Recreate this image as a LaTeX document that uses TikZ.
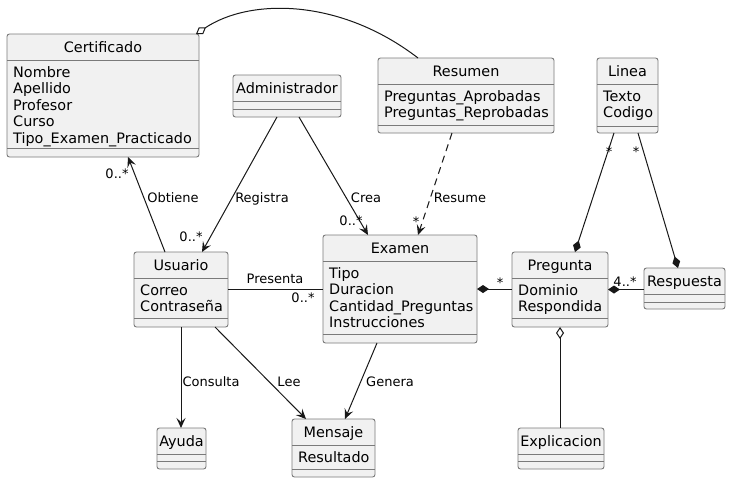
\documentclass[tikz,border=0pt]{standalone}
\usepackage{fontspec}
\setmainfont{DejaVu Sans}
\usetikzlibrary{arrows.meta,calc}
\definecolor{boxfill}{HTML}{F1F1F1}
\definecolor{boxline}{HTML}{7A7A7A}
\definecolor{ink}{HTML}{181818}
\tikzset{
 classbox/.style={rectangle, draw=boxline, fill=boxfill, line width=0.9pt, rounded corners=2.5pt, inner sep=0pt, outer sep=0pt},
 sepline/.style={draw=boxline, line width=0.9pt},
 titletext/.style={font=\fontsize{14.4}{16}\selectfont, inner sep=0pt, text=black},
 attrtext/.style={font=\fontsize{14.4}{16}\selectfont, inner sep=0pt, text=black},
 lbl/.style={font=\fontsize{13}{15}\selectfont, inner sep=0pt, text=black, anchor=base},
 edge/.style={draw=ink, line width=1pt},
 navarrow/.style={edge, -{Stealth[length=10pt,width=9pt,inset=4pt]}},
 compos/.style={edge, {Diamond[length=12pt,width=8pt]}-},
 aggreg/.style={edge, {Diamond[open,length=12pt,width=8pt,fill=white]}-},
 deparrow/.style={navarrow, dash pattern=on 7pt off 5pt},
}
\newcommand\umlclass[7]{%
 \node[classbox, anchor=north west, minimum width={#4pt-#2pt}, minimum height={#5pt-#3pt}] (#1) at (#2,#3) {};
 \draw[sepline] (#2,{#3+26}) -- (#4,{#3+26});
 \draw[sepline] (#2,#7) -- (#4,#7);
 \node[titletext, anchor=base] (#1-t) at ([yshift=-18pt]#1.north) {#6};
}
\newcommand\umlattrs[4]{%
 \foreach \a [count=\i] in {#4} {
   \node[attrtext, anchor=base west] (#1-a\i) at ({#2+6},{#3+43+16.5*(\i-1)}) {\a};
 }
}
\begin{document}
\begin{tikzpicture}[x=1pt,y=-1pt]
\path[fill=white, use as bounding box] (0,0) rectangle (731,483);

\umlclass{Certificado}{7}{34}{199}{157}{Certificado}{148}
\umlattrs{Certificado}{7}{34}{Nombre,Apellido,Profesor,Curso,Tipo\_Examen\_Practicado}
\umlclass{Administrador}{233}{75}{341}{117}{Administrador}{109}
\umlclass{Resumen}{378}{58}{554}{133}{Resumen}{125}
\umlattrs{Resumen}{378}{58}{Preguntas\_Aprobadas,Preguntas\_Reprobadas}
\umlclass{Linea}{597}{58}{658}{133}{Linea}{126}
\umlattrs{Linea}{597}{58}{Texto,Codigo}
\umlclass{Usuario}{134}{252}{228}{327}{Usuario}{318}
\umlattrs{Usuario}{134}{252}{Correo,Contraseña}
\umlclass{Examen}{323}{235}{477}{343}{Examen}{334}
\umlattrs{Examen}{323}{235}{Tipo,Duracion,Cantidad\_Preguntas,Instrucciones}
\umlclass{Pregunta}{512}{252}{608}{327}{Pregunta}{318}
\umlattrs{Pregunta}{512}{252}{Dominio,Respondida}
\umlclass{Respuesta}{644}{268}{725}{309}{Respuesta}{302}
\umlclass{Ayuda}{157}{428}{206}{469}{Ayuda}{461}
\umlclass{Mensaje}{292}{419}{375}{477}{Mensaje}{469}
\umlattrs{Mensaje}{292}{419}{Resultado}
\umlclass{Explicacion}{518}{428}{604}{469}{Explicacion}{461}

% Resumen -- Certificado (aggregation)
\draw[aggreg] ([xshift=-3pt]Certificado.north east) .. controls (250,-2) and (340,-2) .. ([xshift=40pt]Resumen.north west);

% Usuario -> Certificado
\draw[navarrow] ([xshift=31pt]Usuario.north west) -- ([xshift=121pt]Certificado.south west);
\node[lbl] (l-obt) at (173,202) {Obtiene};
\node[lbl] (m-cert) at (117,178) {0..*};

% Administrador -> Usuario
\draw[navarrow] ([xshift=44pt]Administrador.south west) -- ([xshift=68pt]Usuario.north west);
\node[lbl] (l-reg) at (262,202) {Registra};
\node[lbl] (m-usu) at (191,241) {0..*};

% Administrador -> Examen
\draw[navarrow] ([xshift=66pt]Administrador.south west) -- ([xshift=45pt]Examen.north west);
\node[lbl] (l-crea) at (366,202) {Crea};
\node[lbl] (m-ex1) at (351,225) {0..*};

% Resumen ..> Examen
\draw[deparrow] ([xshift=74pt]Resumen.south west) -- ([xshift=95pt]Examen.north west);
\node[lbl] (l-res) at (460,202) {Resume};
\node[lbl] (m-ex2) at (416,226) {*};

% Usuario -- Examen
\draw[edge] (Usuario.east) -- (Usuario.east -| Examen.west);
\node[lbl] (l-pres) at (275,283) {Presenta};
\node[lbl] (m-pres) at (303,302) {0..*};

% Examen *-- Pregunta
\draw[compos] (Examen.east) -- (Examen.east -| Pregunta.west);
\node[lbl] (m-preg) at (500,287) {*};

% Pregunta *-- Respuesta
\draw[compos] (Pregunta.east) -- (Pregunta.east -| Respuesta.west);
\node[lbl] (m-resp) at (625,286) {4..*};

% Linea -- Pregunta / Respuesta
\draw[compos] ([xshift=63pt]Pregunta.north west) -- ([xshift=17pt]Linea.south west);
\node[lbl] (m-lin1) at (609,156) {*};
\draw[compos] ([xshift=34pt]Respuesta.north west) -- ([xshift=41pt]Linea.south west);
\node[lbl] (m-lin2) at (636,156) {*};

% Pregunta o-- Explicacion
\draw[aggreg] (Pregunta.south) -- (Pregunta.south |- Explicacion.north);

% Usuario -> Ayuda
\draw[navarrow] (Usuario.south) -- (Usuario.south |- Ayuda.north);
\node[lbl] (l-cons) at (211,386) {Consulta};

% Usuario -> Mensaje
\draw[navarrow] ([xshift=81pt]Usuario.south west) -- ([xshift=14pt]Mensaje.north west);
\node[lbl] (l-lee) at (289,386) {Lee};

% Examen -> Mensaje
\draw[navarrow] ([xshift=54pt]Examen.south west) -- ([xshift=53pt]Mensaje.north west);
\node[lbl] (l-gen) at (390,386) {Genera};
\end{tikzpicture}
\end{document}
